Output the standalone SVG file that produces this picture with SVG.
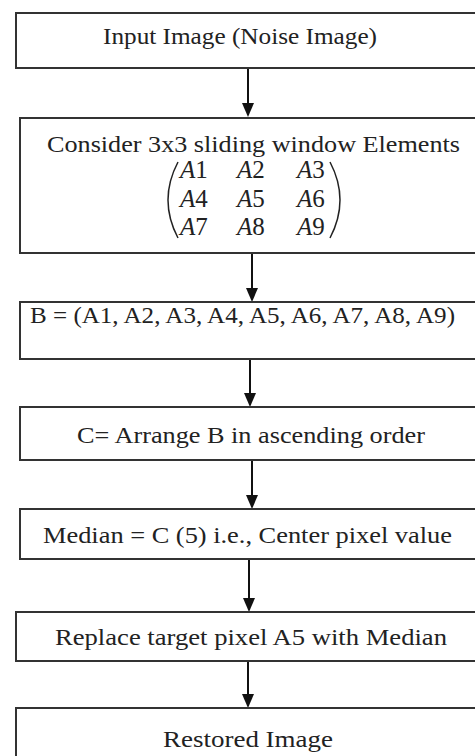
<svg xmlns="http://www.w3.org/2000/svg" width="475" height="756" viewBox="0 0 475 756">
<defs>
<style>
.box{fill:#fff;stroke:#333;stroke-width:2}
.t{font-family:"Liberation Serif","Times New Roman",serif;font-size:24px;fill:#222;text-anchor:middle}
.m{font-family:"Liberation Serif","Times New Roman",serif;font-size:25px;fill:#222;font-style:italic}
.c{stroke:#111;stroke-width:2;fill:none}
.p{stroke:#222;stroke-width:1.5;fill:none}
</style>
</defs>
<rect width="475" height="756" fill="#fff"/>
<g id="connectors">
<line class="c" x1="248" y1="68" x2="248" y2="103"/><path d="M242 103 L254 103 L248 117 Z" fill="#111"/>
<line class="c" x1="252" y1="253" x2="252" y2="288"/><path d="M246 288 L258 288 L252 302 Z" fill="#111"/>
<line class="c" x1="250" y1="359" x2="250" y2="393"/><path d="M244 393 L256 393 L250 407 Z" fill="#111"/>
<line class="c" x1="252" y1="460" x2="252" y2="495"/><path d="M246 495 L258 495 L252 509 Z" fill="#111"/>
<line class="c" x1="249" y1="559" x2="249" y2="598"/><path d="M243 598 L255 598 L249 612 Z" fill="#111"/>
<line class="c" x1="248" y1="661" x2="248" y2="694"/><path d="M242 694 L254 694 L248 708 Z" fill="#111"/>
</g>
<g id="n1">
<rect class="box" x="16" y="13" width="470" height="55"/>
<text class="t" x="240" y="44" textLength="274" lengthAdjust="spacingAndGlyphs">Input Image (Noise Image)</text>
</g>
<g id="n2">
<rect class="box" x="20" y="118" width="466" height="135"/>
<text class="t" x="253.5" y="152" textLength="413" lengthAdjust="spacingAndGlyphs">Consider 3x3 sliding window Elements</text>
<path class="p" d="M178 162 Q158 200 178 238"/>
<path class="p" d="M330 162 Q350 200 330 238"/>
<text class="m" x="180" y="178">A<tspan font-style="normal">1</tspan></text>
<text class="m" x="237" y="178">A<tspan font-style="normal">2</tspan></text>
<text class="m" x="297" y="178">A<tspan font-style="normal">3</tspan></text>
<text class="m" x="180" y="207">A<tspan font-style="normal">4</tspan></text>
<text class="m" x="237" y="207">A<tspan font-style="normal">5</tspan></text>
<text class="m" x="297" y="207">A<tspan font-style="normal">6</tspan></text>
<text class="m" x="180" y="235">A<tspan font-style="normal">7</tspan></text>
<text class="m" x="237" y="235">A<tspan font-style="normal">8</tspan></text>
<text class="m" x="297" y="235">A<tspan font-style="normal">9</tspan></text>
</g>
<g id="n3">
<rect class="box" x="20" y="302" width="466" height="57"/>
<text class="t" x="242.5" y="323" textLength="425" lengthAdjust="spacingAndGlyphs">B = (A1, A2, A3, A4, A5, A6, A7, A8, A9)</text>
</g>
<g id="n4">
<rect class="box" x="20" y="407" width="466" height="53"/>
<text class="t" x="251" y="443" textLength="348" lengthAdjust="spacingAndGlyphs">C= Arrange B in ascending order</text>
</g>
<g id="n5">
<rect class="box" x="20" y="509" width="466" height="50"/>
<text class="t" x="247.5" y="543" textLength="409" lengthAdjust="spacingAndGlyphs">Median = C (5) i.e., Center pixel value</text>
</g>
<g id="n6">
<rect class="box" x="16" y="612" width="470" height="49"/>
<text class="t" x="251" y="645" textLength="392" lengthAdjust="spacingAndGlyphs">Replace target pixel A5 with Median</text>
</g>
<g id="n7">
<rect class="box" x="16" y="708" width="470" height="60"/>
<text class="t" x="248" y="747" textLength="170" lengthAdjust="spacingAndGlyphs">Restored Image</text>
</g>
</svg>
